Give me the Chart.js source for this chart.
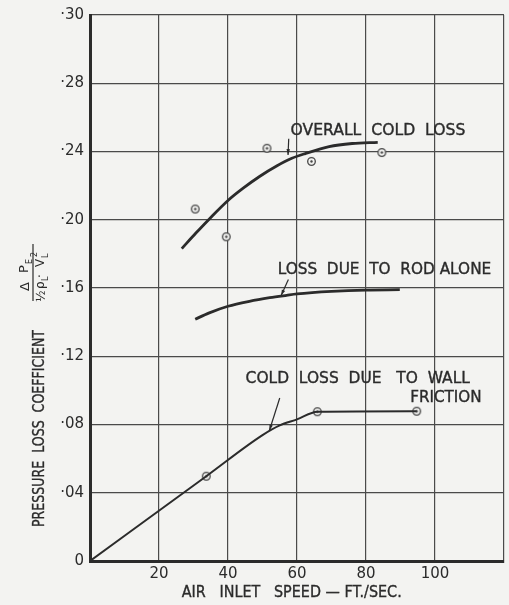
<!DOCTYPE html>
<html>
<head>
<meta charset="utf-8">
<script src="https://cdn.jsdelivr.net/npm/chart.js@4/dist/chart.umd.min.js"></script>
<style>
  html, body { margin: 0; padding: 0; background: #f3f3f1; }
  #wrap { width: 509px; height: 605px; }
</style>
</head>
<body>
<div id="wrap"><canvas id="c" width="509" height="605"></canvas></div>
<script>
// Air inlet speed (ft/sec) against pressure loss coefficient
const overallCurveX = [26.6, 30.7, 34.6, 40, 44.4, 49.25, 54.1, 58.5, 62.4, 69.3, 76, 83.4];
const overallCurveY = [0.1831, 0.1922, 0.2005, 0.2113, 0.2185, 0.2255, 0.2315, 0.2360, 0.2388, 0.2429, 0.2447, 0.2454];
const overallPointsX = [30.5, 39.5, 51.3, 64.2, 84.6];
const overallPointsY = [0.2063, 0.190, 0.2419, 0.2342, 0.2394];

const rodCurveX = [30.5, 34.4, 40, 46.2, 52.1, 57, 60, 70, 80, 89.8];
const rodCurveY = [0.1417, 0.1453, 0.1493, 0.1522, 0.1543, 0.1557, 0.1565, 0.1580, 0.1588, 0.1590];

const wallCurveX = [0, 33.7, 50, 55, 60, 65.9, 94.7];
const wallCurveY = [0, 0.0497, 0.0738, 0.0795, 0.0830, 0.0875, 0.0878];
const wallPointsX = [33.7, 65.9, 94.7];
const wallPointsY = [0.0497, 0.0875, 0.0878];

const xTickLabels = ['', '20', '40', '60', '80', '100', ''];
const yTickLabels = ['0', '·04', '·08', '·12', '·16', '·20', '·24', '·28', '·30'];

const ink = '#2b2b2b';
const gridInk = '#4a4a4a';
const paper = '#f3f3f1';
const FONT = "'DejaVu Sans', sans-serif";

const toXY = (xs, ys) => xs.map((x, i) => ({ x, y: ys[i] }));

// circled-dot marker for measured points
function makeMarker() {
  const m = document.createElement('canvas');
  m.width = 11; m.height = 11;
  const g = m.getContext('2d');
  g.fillStyle = paper;
  g.strokeStyle = '#444';
  g.lineWidth = 1.3;
  g.beginPath(); g.arc(5.5, 5.5, 3.8, 0, Math.PI * 2); g.fill(); g.stroke();
  g.fillStyle = '#444';
  g.beginPath(); g.arc(5.5, 5.5, 1.2, 0, Math.PI * 2); g.fill();
  return m;
}
const marker = makeMarker();

// draw a line of lettering stretched between two x positions, centred on yc
function letter(ctx, text, x0, x1, yc, capH) {
  const size = capH / 0.729;
  ctx.save();
  ctx.font = size + 'px ' + FONT;
  const w = ctx.measureText(text).width;
  ctx.translate(x0, yc);
  ctx.scale((x1 - x0) / w, 1);
  ctx.textAlign = 'left';
  ctx.textBaseline = 'middle';
  ctx.fillText(text, 0, 0);
  ctx.lineWidth = 0.35;
  ctx.strokeText(text, 0, 0);
  ctx.restore();
}

// curve labels with leader lines, placed in data units
const notes = [
  { text: 'OVERALL  COLD  LOSS', x0: 58.1, x1: 108.8, y: 0.2519, lead: [57.6, 0.2475, 57.4, 0.2380] },
  { text: 'LOSS  DUE  TO  ROD ALONE', x0: 54.4, x1: 116.3, y: 0.1705, lead: [57.5, 0.1650, 55.4, 0.1556] },
  { text: 'COLD  LOSS  DUE   TO  WALL', x0: 45.1, x1: 110.1, y: 0.1064, lead: [55.0, 0.0955, 52.0, 0.0765] },
  { text: 'FRICTION', x0: 92.8, x1: 113.5, y: 0.0955, lead: null }
];

const decorations = {
  id: 'decorations',
  beforeDraw(chart) {
    const ctx = chart.ctx;
    ctx.save();
    ctx.fillStyle = paper;
    ctx.fillRect(0, 0, chart.width, chart.height);
    ctx.restore();
  },
  afterDatasetsDraw(chart) {
    const ctx = chart.ctx;
    const xs = chart.scales.x, ys = chart.scales.y;
    ctx.save();
    ctx.fillStyle = ink;
    ctx.strokeStyle = ink;
    notes.forEach(n => {
      letter(ctx, n.text, xs.getPixelForValue(n.x0), xs.getPixelForValue(n.x1), ys.getPixelForValue(n.y), 11);
      if (n.lead) {
        const x1 = xs.getPixelForValue(n.lead[0]), y1 = ys.getPixelForValue(n.lead[1]);
        const x2 = xs.getPixelForValue(n.lead[2]), y2 = ys.getPixelForValue(n.lead[3]);
        ctx.lineWidth = 1.2;
        ctx.beginPath(); ctx.moveTo(x1, y1); ctx.lineTo(x2, y2); ctx.stroke();
        const a = Math.atan2(y2 - y1, x2 - x1);
        ctx.beginPath();
        ctx.moveTo(x2, y2);
        ctx.lineTo(x2 - 6 * Math.cos(a - 0.3), y2 - 6 * Math.sin(a - 0.3));
        ctx.lineTo(x2 - 6 * Math.cos(a + 0.3), y2 - 6 * Math.sin(a + 0.3));
        ctx.closePath(); ctx.fill();
      }
    });

    // horizontal axis title
    letter(ctx, 'AIR   INLET   SPEED — FT./SEC.', 181.7, 401.7, 592.7, 11.5);

    // vertical axis title
    ctx.save();
    ctx.translate(40, 527);
    ctx.rotate(-Math.PI / 2);
    letter(ctx, 'PRESSURE  LOSS  COEFFICIENT', 0, 197, 0, 11.5);
    ctx.restore();

    // coefficient expression  ΔP_E / (½ ρ_L · V_L²)
    ctx.save();
    ctx.translate(33, 273);
    ctx.rotate(-Math.PI / 2);
    ctx.textBaseline = 'middle';
    ctx.textAlign = 'left';
    ctx.font = '13px ' + FONT;
    ctx.fillText('Δ', -18, -7);
    ctx.fillText('P', 0, -8);
    ctx.font = '8px ' + FONT;
    ctx.fillText('E', 9, -3);
    ctx.lineWidth = 1.2;
    ctx.beginPath(); ctx.moveTo(-28, 0); ctx.lineTo(29, 0); ctx.stroke();
    ctx.font = '12px ' + FONT;
    ctx.fillText('½', -29, 9);
    ctx.fillText('ρ', -16, 8);
    ctx.fillText('·', -5, 8);
    ctx.fillText('V', 6, 8);
    ctx.font = '8px ' + FONT;
    ctx.fillText('L', -8, 13);
    ctx.fillText('L', 15, 13);
    ctx.fillText('2', 16, 2);
    ctx.restore();

    ctx.restore();
  }
};

new Chart(document.getElementById('c'), {
  type: 'scatter',
  data: {
    datasets: [
      { data: toXY(overallCurveX, overallCurveY), showLine: true, borderColor: ink, borderWidth: 2.8,
        pointRadius: 0, cubicInterpolationMode: 'monotone', fill: false },
      { data: toXY(overallPointsX, overallPointsY), showLine: false, pointStyle: marker },
      { data: toXY(rodCurveX, rodCurveY), showLine: true, borderColor: ink, borderWidth: 2.8,
        pointRadius: 0, cubicInterpolationMode: 'monotone', fill: false },
      { data: toXY(wallCurveX, wallCurveY), showLine: true, borderColor: ink, borderWidth: 2,
        pointRadius: 0, cubicInterpolationMode: 'monotone', fill: false },
      { data: toXY(wallPointsX, wallPointsY), showLine: false, pointStyle: marker }
    ]
  },
  options: {
    responsive: false,
    animation: false,
    layout: { padding: { left: 0, right: 5, top: 13, bottom: 0 } },
    plugins: { legend: { display: false }, tooltip: { enabled: false } },
    scales: {
      x: {
        type: 'linear', min: 0, max: 120,
        afterFit(s) { s.height = 44; },
        ticks: { stepSize: 20, padding: 4, color: ink, font: { family: FONT, size: 15 },
          callback: (v, i) => xTickLabels[i] },
        grid: { color: gridInk, lineWidth: 1.2, drawTicks: false },
        border: { color: ink, width: 3 }
      },
      y: {
        type: 'linear', min: 0, max: 0.32,
        afterFit(s) { s.width = 90; },
        ticks: { stepSize: 0.04, padding: 6, color: ink, font: { family: FONT, size: 15 },
          callback: (v, i) => yTickLabels[i] },
        grid: { color: gridInk, lineWidth: 1.2, drawTicks: false },
        border: { color: ink, width: 3 }
      }
    }
  },
  plugins: [decorations]
});
</script>
</body>
</html>
